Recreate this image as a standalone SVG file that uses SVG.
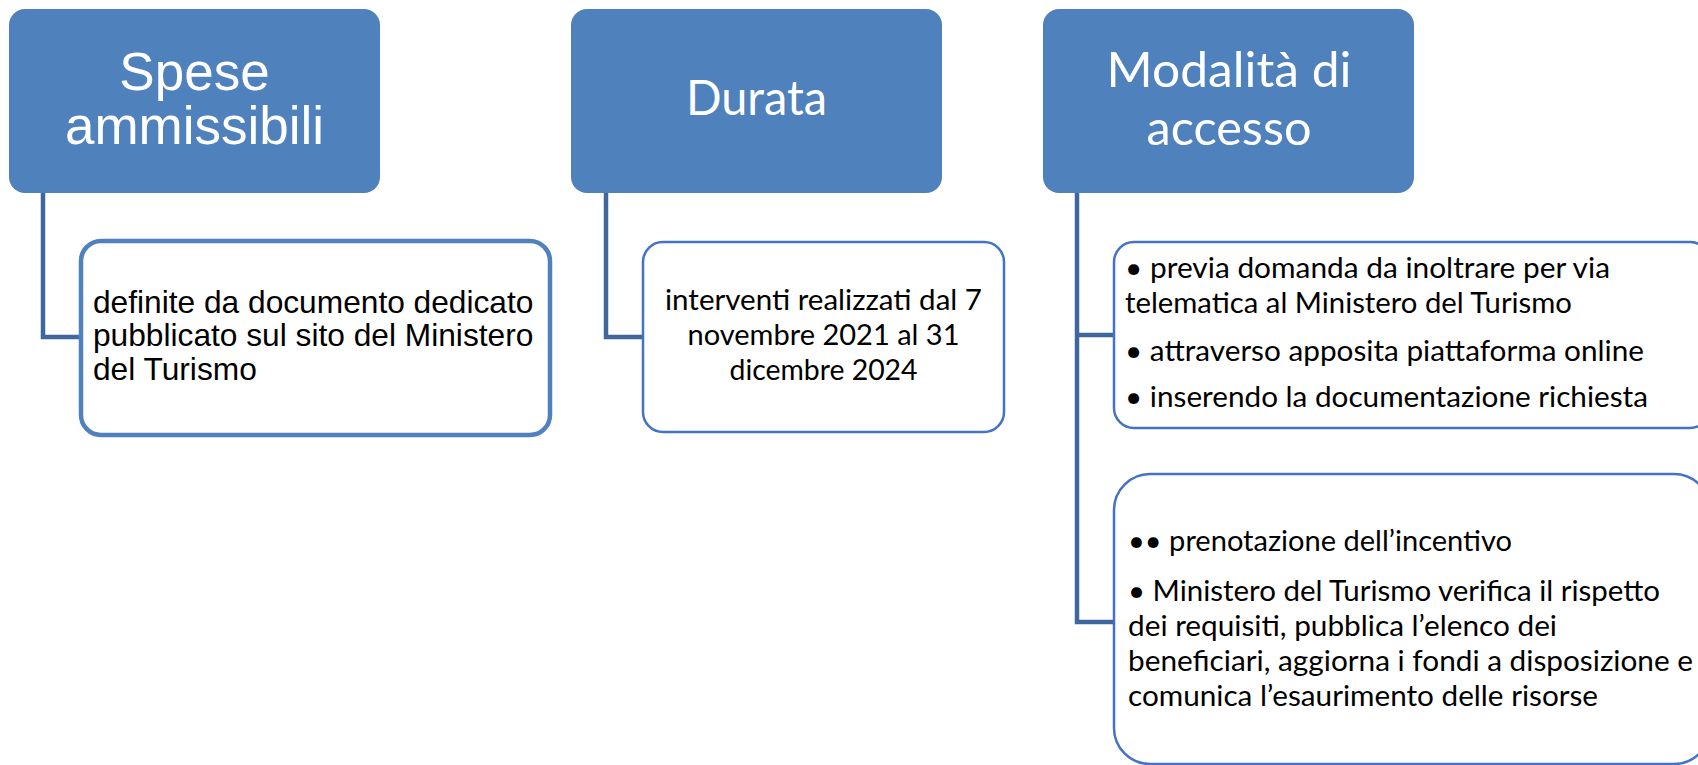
<svg xmlns="http://www.w3.org/2000/svg" width="1698" height="765" viewBox="0 0 1698 765">
<style>
.hdr{fill:#4F81BD;}
.t1{font-family:"Liberation Sans",Arial,sans-serif;fill:#ffffff;font-size:53px;text-anchor:middle;}
.t2{font-family:Lato,"Noto Sans",sans-serif;fill:#ffffff;font-size:48px;text-anchor:middle;}
.c1{fill:#ffffff;stroke:#4F81BD;stroke-width:4.5;}
.c2{fill:#ffffff;stroke:#4472C4;stroke-width:2.5;}
.b1{font-family:"Liberation Sans",Arial,sans-serif;fill:#000000;font-size:31.7px;}
.b2{font-family:Lato,"Noto Sans",sans-serif;fill:#000000;font-size:28px;}
.conn{fill:none;stroke:#3F679E;stroke-width:4.5;}
</style>
<rect width="1698" height="765" fill="#ffffff"/>
<g id="connectors">
<path class="conn" d="M43,193 V337 H81"/>
<path class="conn" d="M606,193 V337 H643"/>
<path class="conn" d="M1077,193 V622 H1113"/>
<path class="conn" d="M1077,335 H1113"/>
</g>
<g id="spese">
<rect class="hdr" x="9" y="9" width="371" height="184" rx="16"/>
<text class="t1" x="194.5" y="90">Spese</text>
<text class="t1" x="194.5" y="144">ammissibili</text>
</g>
<g id="durata">
<rect class="hdr" x="571" y="9" width="371" height="184" rx="16"/>
<text class="t2" x="756.5" y="115" textLength="141" lengthAdjust="spacingAndGlyphs">Durata</text>
</g>
<g id="modalita">
<rect class="hdr" x="1043" y="9" width="371" height="184" rx="16"/>
<text class="t2" x="1229" y="87" textLength="245" lengthAdjust="spacingAndGlyphs">Modalità di</text>
<text class="t2" x="1229" y="145" textLength="165" lengthAdjust="spacingAndGlyphs">accesso</text>
</g>
<g id="spese-detail">
<rect class="c1" x="81" y="241" width="469" height="194" rx="20"/>
<text class="b1" x="93" y="313">definite da documento dedicato</text>
<text class="b1" x="93" y="346">pubblicato sul sito del Ministero</text>
<text class="b1" x="93" y="380">del Turismo</text>
</g>
<g id="durata-detail">
<rect class="c2" x="643" y="242" width="361" height="190" rx="20"/>
<text class="b2" x="823.5" y="310" text-anchor="middle" textLength="317" lengthAdjust="spacingAndGlyphs">interventi realizzati dal 7</text>
<text class="b2" x="823.5" y="345" text-anchor="middle" textLength="272" lengthAdjust="spacingAndGlyphs">novembre 2021 al 31</text>
<text class="b2" x="823.5" y="380" text-anchor="middle" textLength="188" lengthAdjust="spacingAndGlyphs">dicembre 2024</text>
</g>
<g id="modalita-detail-1">
<rect class="c2" x="1114" y="242" width="596" height="186" rx="20"/>
<text class="b2" x="1125" y="278" textLength="485" lengthAdjust="spacingAndGlyphs">• previa domanda da inoltrare per via</text>
<text class="b2" x="1125" y="313" textLength="447" lengthAdjust="spacingAndGlyphs">telematica al Ministero del Turismo</text>
<text class="b2" x="1125" y="361" textLength="519" lengthAdjust="spacingAndGlyphs">• attraverso apposita piattaforma online</text>
<text class="b2" x="1125" y="407" textLength="523" lengthAdjust="spacingAndGlyphs">• inserendo la documentazione richiesta</text>
</g>
<g id="modalita-detail-2">
<rect class="c2" x="1114" y="474" width="596" height="290" rx="36"/>
<text class="b2" x="1128" y="551" textLength="384" lengthAdjust="spacingAndGlyphs">•• prenotazione dell’incentivo</text>
<text class="b2" x="1128" y="601" textLength="532" lengthAdjust="spacingAndGlyphs">• Ministero del Turismo verifica il rispetto</text>
<text class="b2" x="1128" y="636" textLength="429" lengthAdjust="spacingAndGlyphs">dei requisiti, pubblica l’elenco dei</text>
<text class="b2" x="1128" y="671" textLength="565" lengthAdjust="spacingAndGlyphs">beneficiari, aggiorna i fondi a disposizione e</text>
<text class="b2" x="1128" y="706" textLength="470" lengthAdjust="spacingAndGlyphs">comunica l’esaurimento delle risorse</text>
</g>
</svg>
